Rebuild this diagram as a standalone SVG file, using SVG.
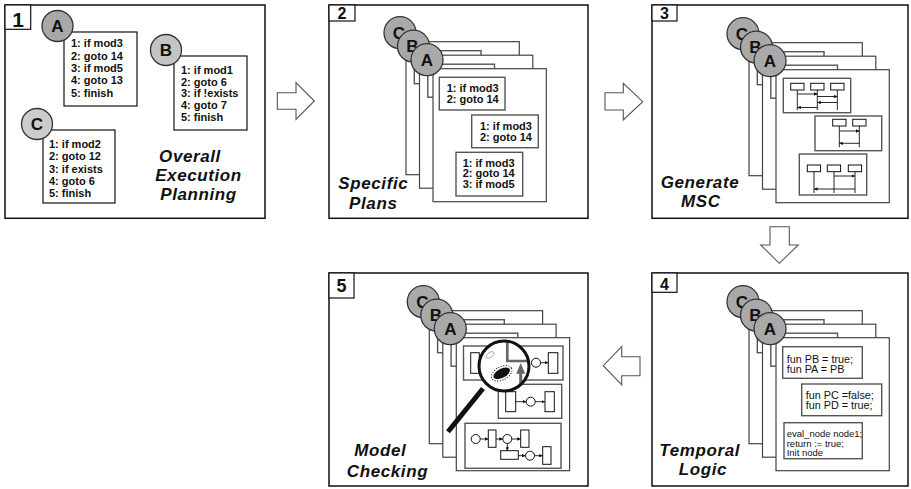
<svg xmlns="http://www.w3.org/2000/svg" width="911" height="489" viewBox="0 0 911 489">
<style>
  .panel { fill: #fff; stroke: #111; stroke-width: 1.5; }
  .tag { fill: #fff; stroke: #111; stroke-width: 1.2; }
  .tagnum { font-family: "Liberation Sans", Arial, sans-serif; font-weight: bold; fill: #111; text-anchor: middle; }
  .title { font-family: "Liberation Sans", Arial, sans-serif; font-weight: bold; font-style: italic; font-size: 17px; letter-spacing: 0.6px; fill: #111; text-anchor: middle; }
  .code { font-family: "Liberation Sans", Arial, sans-serif; font-weight: bold; font-size: 11px; fill: #111; }
  .fn { font-family: "Liberation Sans", Arial, sans-serif; font-size: 10.8px; fill: #111; }
  .fn2 { font-family: "Liberation Sans", Arial, sans-serif; font-size: 9.5px; fill: #111; }
  .box { fill: #fff; stroke: #111; stroke-width: 1.2; }
  .gbox { fill: #fff; stroke: #555; stroke-width: 1.4; }
  .sheet { fill: #fff; stroke: #444; stroke-width: 1.2; }
  .disc { stroke: #333; stroke-width: 1.3; }
  .letter { font-family: "Liberation Sans", Arial, sans-serif; font-weight: bold; font-size: 17px; fill: #111; text-anchor: middle; }
  .ln { fill: none; stroke: #111; stroke-width: 0.9; }
  .arr { fill: none; stroke: #111; stroke-width: 0.9; marker-end: url(#ah); }
  .small { fill: #fff; stroke: #111; stroke-width: 1; }
  .flow { fill: #fff; stroke: #555; stroke-width: 1.1; }
</style>
<defs>
  <marker id="ah" viewBox="0 0 6 6" refX="6" refY="3" markerWidth="3.5" markerHeight="3.5" markerUnits="userSpaceOnUse" orient="auto">
    <path d="M0,0 L6,3 L0,6 z" fill="#111"/>
  </marker>
  <clipPath id="lens">
    <circle cx="504" cy="366" r="25"/>
  </clipPath>
  <!-- three stacked sheets with their C/B/A discs; origin = top-left of sheet C -->
  <g id="stack">
    <rect class="sheet" x="0" y="0" width="113.3" height="133"/>
    <rect class="gbox" x="8.3" y="9" width="66.7" height="33"/>
    <rect class="sheet" x="13.5" y="13.5" width="113.3" height="133"/>
    <rect class="gbox" x="21.8" y="22.5" width="66.7" height="33"/>
    <rect class="sheet" x="27" y="27" width="113.3" height="133"/>
    <circle class="disc" cx="-6" cy="-9" r="16" fill="#a9a9a9"/>
    <text class="letter" x="-7" y="-3">C</text>
    <circle class="disc" cx="7.5" cy="4.5" r="16" fill="#a9a9a9"/>
    <text class="letter" x="6.5" y="10.5">B</text>
    <circle class="disc" cx="21" cy="18" r="16" fill="#a9a9a9"/>
    <text class="letter" x="21" y="24">A</text>
  </g>
</defs>

<rect width="911" height="489" fill="#fff"/>

<!-- 1: overall execution planning -->
<g id="panel1">
  <rect class="panel" x="5" y="5" width="260" height="213.3"/>
  <rect class="tag" x="5" y="5" width="25.7" height="24.3"/>
  <text class="tagnum" x="18" y="26.7" font-size="21">1</text>

  <rect class="box" x="64" y="32" width="73" height="74"/>
  <text class="code" x="71" y="47.3">1: if mod3</text>
  <text class="code" x="71" y="59.6">2: goto 14</text>
  <text class="code" x="71" y="71.9">3: if mod5</text>
  <text class="code" x="71" y="84.2">4: goto 13</text>
  <text class="code" x="71" y="96.5">5: finish</text>
  <circle class="disc" cx="57.5" cy="26" r="15.5" fill="#a8a8a8"/>
  <text class="letter" x="57.5" y="32">A</text>

  <rect class="box" x="174" y="56" width="73" height="74"/>
  <text class="code" x="181" y="74">1: if mod1</text>
  <text class="code" x="181" y="85.7">2: goto 6</text>
  <text class="code" x="181" y="97.4">3: if !exists</text>
  <text class="code" x="181" y="109.1">4: goto 7</text>
  <text class="code" x="181" y="120.8">5: finish</text>
  <circle class="disc" cx="166" cy="50" r="15.5" fill="#c4c4c4"/>
  <text class="letter" x="166" y="56">B</text>

  <rect class="box" x="43" y="130" width="72" height="73"/>
  <text class="code" x="49" y="148.3">1: if mod2</text>
  <text class="code" x="49" y="160.4">2: goto 12</text>
  <text class="code" x="49" y="172.5">3: if exists</text>
  <text class="code" x="49" y="184.6">4: goto 6</text>
  <text class="code" x="49" y="196.7">5: finish</text>
  <circle class="disc" cx="37" cy="124" r="15.5" fill="#cccccc"/>
  <text class="letter" x="37" y="130">C</text>

  <text class="title" x="190" y="161.5">Overall</text>
  <text class="title" x="198.5" y="180.8">Execution</text>
  <text class="title" x="198.5" y="200.1">Planning</text>
</g>

<!-- 2: specific plans -->
<g id="panel2">
  <rect class="panel" x="329" y="5" width="259" height="213.3"/>
  <rect class="tag" x="329" y="5" width="26" height="16"/>
  <text class="tagnum" x="342" y="18.5" font-size="16">2</text>
  <use href="#stack" x="406" y="41.7"/>
  <rect class="gbox" x="439.3" y="77.3" width="65.7" height="32.7"/>
  <text class="code" x="446.7" y="92.3">1: if mod3</text>
  <text class="code" x="446.7" y="103.3">2: goto 14</text>
  <rect class="gbox" x="471.7" y="115" width="66.6" height="32.7"/>
  <text class="code" x="480" y="130">1: if mod3</text>
  <text class="code" x="480" y="141">2: goto 14</text>
  <rect class="gbox" x="456" y="152.3" width="66.7" height="43.7"/>
  <text class="code" x="462.7" y="166.7">1: if mod3</text>
  <text class="code" x="462.7" y="177.4">2: goto 14</text>
  <text class="code" x="462.7" y="188.1">3: if mod5</text>
  <text class="title" x="373.3" y="188.5">Specific</text>
  <text class="title" x="373.3" y="208.5">Plans</text>
</g>

<!-- 3: message sequence charts -->
<g id="panel3">
  <rect class="panel" x="652" y="5" width="256" height="213.3"/>
  <rect class="tag" x="652" y="5" width="25" height="16"/>
  <text class="tagnum" x="664.5" y="18.5" font-size="16">3</text>
  <use href="#stack" x="749" y="42.7"/>
  <rect class="gbox" x="783.3" y="78.3" width="67.4" height="34.4"/>
  <rect class="small" x="790.7" y="83.3" width="13.3" height="6.7"/>
  <rect class="small" x="810.7" y="83.3" width="13.3" height="6.7"/>
  <rect class="small" x="830.7" y="83.3" width="13.3" height="6.7"/>
  <path class="ln" d="M797.3,90V110M817.3,90V110M837.3,90V110"/>
  <path class="arr" d="M797.3,94H817.3"/>
  <path class="arr" d="M817.3,96.5H837.3"/>
  <path class="arr" d="M837.3,102.5H817.3"/>
  <path class="arr" d="M817.3,107.5H797.3"/>

  <rect class="gbox" x="815" y="116" width="66.7" height="34.7"/>
  <rect class="small" x="832.7" y="119.3" width="13.3" height="6.7"/>
  <rect class="small" x="852.7" y="119.3" width="13.3" height="6.7"/>
  <path class="ln" d="M839.3,126V147.3M859.3,126V147.3"/>
  <path class="arr" d="M839.3,131H859.3"/>
  <path class="arr" d="M859.3,143.3H839.3"/>

  <rect class="gbox" x="799.3" y="154" width="67.4" height="41"/>
  <rect class="small" x="807.3" y="165" width="13.3" height="6.7"/>
  <rect class="small" x="827.3" y="165" width="13.3" height="6.7"/>
  <rect class="small" x="848.3" y="165" width="13.3" height="6.7"/>
  <path class="ln" d="M814,171.7V193M834,171.7V193M855,171.7V193"/>
  <path class="arr" d="M834,176H855"/>
  <path class="arr" d="M855,189H814"/>
  <text class="title" x="700" y="187.5">Generate</text>
  <text class="title" x="700.8" y="207.3">MSC</text>
</g>

<!-- 4: temporal logic -->
<g id="panel4">
  <rect class="panel" x="652" y="273" width="256" height="213"/>
  <rect class="tag" x="652" y="273" width="25" height="19.3"/>
  <text class="tagnum" x="664.5" y="290" font-size="16">4</text>
  <use href="#stack" x="749" y="310.7"/>
  <rect class="gbox" x="782.7" y="346.7" width="79.6" height="31.6"/>
  <text class="fn" x="786.7" y="362.5">fun PB = true;</text>
  <text class="fn" x="786.7" y="373">fun PA = PB</text>
  <rect class="gbox" x="801.7" y="384" width="80" height="31.7"/>
  <text class="fn" x="805.7" y="398.7">fun PC =false;</text>
  <text class="fn" x="805.7" y="409.3">fun PD = true;</text>
  <rect class="gbox" x="784" y="422.7" width="78.3" height="36"/>
  <text class="fn2" x="786.7" y="436.5">eval_node node1;</text>
  <text class="fn2" x="786.7" y="446.5">return := true;</text>
  <text class="fn2" x="786.7" y="456.3">Init node</text>
  <text class="title" x="699.7" y="455.5">Temporal</text>
  <text class="title" x="703" y="475">Logic</text>
</g>

<!-- 5: model checking -->
<g id="panel5">
  <rect class="panel" x="329" y="273" width="259" height="213"/>
  <rect class="tag" x="329" y="273" width="25" height="25"/>
  <text class="tagnum" x="341.5" y="292" font-size="18">5</text>
  <use href="#stack" x="429.3" y="310.7"/>

  <rect class="gbox" x="463.5" y="346" width="99.5" height="34"/>
  <rect class="small" x="470.7" y="352.7" width="8.6" height="20.6"/>
  <rect class="small" x="548.3" y="352.7" width="9.5" height="20.6"/>
  <circle class="small" cx="536" cy="362.7" r="4.5"/>
  <path class="arr" d="M540.5,362.7H548.3"/>

  <rect class="gbox" x="498.3" y="384.3" width="63.4" height="34"/>
  <rect class="small" x="505.7" y="391.7" width="10" height="20"/>
  <circle class="small" cx="530.7" cy="401.7" r="4.5"/>
  <rect class="small" x="545" y="391.7" width="9.3" height="20"/>
  <path class="arr" d="M515.7,401.7H526.2"/>
  <path class="arr" d="M535.2,401.7H545"/>

  <rect class="gbox" x="465" y="423.3" width="96" height="45"/>
  <circle class="small" cx="475.7" cy="439" r="4.5"/>
  <rect class="small" x="488.3" y="430" width="7.7" height="17.3"/>
  <circle class="small" cx="507.3" cy="439" r="4.5"/>
  <rect class="small" x="520.7" y="430" width="8.3" height="17.3"/>
  <rect class="small" x="500.7" y="450.7" width="17.6" height="8.6"/>
  <circle class="small" cx="530" cy="455.7" r="4.5"/>
  <rect class="small" x="542.7" y="446.7" width="8.3" height="17.6"/>
  <path class="arr" d="M480.2,439H488.3"/>
  <path class="arr" d="M496,439H502.8"/>
  <path class="arr" d="M511.8,439H520.7"/>
  <path class="arr" d="M507.3,443.5V450.7"/>
  <path class="arr" d="M518.3,455.7H525.5"/>
  <path class="arr" d="M534.5,455.7H542.7"/>

  <!-- magnifying glass over the first net -->
  <g id="magnifier">
    <line x1="483" y1="388.5" x2="448" y2="431.7" stroke="#111" stroke-width="5"/>
    <circle cx="504" cy="366" r="25" fill="#fff"/>
    <g clip-path="url(#lens)">
      <path d="M507.3,338V361H536" fill="none" stroke="#666" stroke-width="2.7"/>
      <line x1="520.7" y1="395" x2="520.7" y2="372" stroke="#666" stroke-width="3"/>
      <path d="M516.2,373.8L525.2,373.8L520.7,363z" fill="#666"/>
      <ellipse cx="501.7" cy="373.3" rx="9" ry="4.6" transform="rotate(-28 501.7 373.3)" fill="#111"/>
      <ellipse cx="501.7" cy="373.3" rx="11" ry="6.6" transform="rotate(-28 501.7 373.3)" fill="none" stroke="#111" stroke-width="1.1" stroke-dasharray="1 1.6"/>
      <ellipse cx="490" cy="355" rx="4.5" ry="2.4" transform="rotate(-35 490 355)" fill="none" stroke="#999" stroke-width="0.8"/>
    </g>
    <circle cx="504" cy="366" r="25" fill="none" stroke="#111" stroke-width="3"/>
  </g>
  <text class="title" x="380.3" y="456">Model</text>
  <text class="title" x="387.5" y="476.5">Checking</text>
</g>

<!-- hollow block arrows between the steps -->
<g id="connectors">
  <polygon class="flow" points="277.3,92.7 296,92.7 296,82.7 314.3,101 296,119.3 296,109.3 277.3,109.3"/>
  <polygon class="flow" points="605,92.7 623.3,92.7 623.3,83.3 642.7,101.7 623.3,120 623.3,110 605,110"/>
  <polygon class="flow" points="770,226.7 789.3,226.7 789.3,245 798.3,245 779.3,263.3 760.7,245 770,245"/>
  <polygon class="flow" points="640,356.7 621.7,356.7 621.7,346.7 603.3,365.7 621.7,385 621.7,375.7 640,375.7"/>
</g>
</svg>
